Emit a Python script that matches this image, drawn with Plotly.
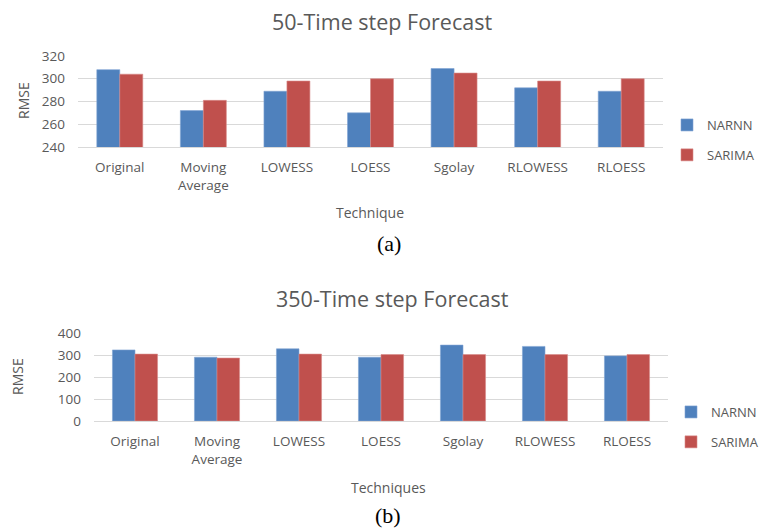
import plotly.graph_objects as go

categories = ["Original", "Moving<br>Average", "LOWESS", "LOESS", "Sgolay", "RLOWESS", "RLOESS"]
narnn_50 = [308, 272, 289, 270, 309, 292, 289]
sarima_50 = [304, 281, 298, 300, 305, 298, 300]
narnn_350 = [323, 290, 328, 290, 345, 339, 296]
sarima_350 = [304, 286, 304, 302, 302, 302, 302]

BLUE = "#4F81BD"
RED = "#C0504D"
GRAY = "#595959"
GRID = "#D9D9D9"
W, H = 761, 529

def px(x):
    return x / W

def py(y):
    return 1 - y / H

fig = go.Figure()
fig.add_trace(go.Bar(x=categories, y=narnn_50, name="NARNN", legendgroup="a1",
                     marker=dict(color=BLUE, line=dict(color="#7FA3D3", width=0.6)),
                     xaxis="x", yaxis="y", legend="legend"))
fig.add_trace(go.Bar(x=categories, y=sarima_50, name="SARIMA", legendgroup="a2",
                     marker=dict(color=RED, line=dict(color="#D98A88", width=0.6)),
                     xaxis="x", yaxis="y", legend="legend"))
fig.add_trace(go.Bar(x=categories, y=narnn_350, name="NARNN", legendgroup="b1",
                     marker=dict(color=BLUE, line=dict(color="#7FA3D3", width=0.6)),
                     xaxis="x2", yaxis="y2", legend="legend2"))
fig.add_trace(go.Bar(x=categories, y=sarima_350, name="SARIMA", legendgroup="b2",
                     marker=dict(color=RED, line=dict(color="#D98A88", width=0.6)),
                     xaxis="x2", yaxis="y2", legend="legend2"))

font_main = "Open Sans, DejaVu Sans, sans-serif"
tickfont = dict(family=font_main, size=13.5, color=GRAY)

xcommon = dict(showgrid=False, showline=True, linecolor=GRID, linewidth=1, ticks="",
               tickfont=tickfont, ticklabelstandoff=8, fixedrange=True)
ycommon = dict(showgrid=True, gridcolor=GRID, gridwidth=1, zeroline=False, showline=False, ticks="",
               tickfont=tickfont, ticklabelstandoff=12, fixedrange=True)

def ann(text, x, y, size, family=font_main, color=GRAY, angle=0):
    return dict(text=text, x=px(x), y=py(y), xref="paper", yref="paper", showarrow=False,
                xanchor="center", yanchor="middle", textangle=angle,
                font=dict(family=family, size=size, color=color))

SERIF = "Liberation Serif, Times New Roman, serif"
annotations = [
    ann("50-Time step Forecast", 382, 22, 21.5),
    ann("RMSE", 23, 101, 14, angle=-90),
    ann("Technique", 370, 212, 14),
    ann("(a)", 389, 244, 22, family=SERIF, color="black"),
    ann("350-Time step Forecast", 392, 298, 21.5),
    ann("RMSE", 17, 377, 14, angle=-90),
    ann("Techniques", 388, 487, 14),
    ann("(b)", 388, 515, 22, family=SERIF, color="black"),
]

legend_font = dict(family=font_main, size=13, color=GRAY)

fig.update_layout(
    width=W, height=H,
    margin=dict(l=0, r=0, t=0, b=0, autoexpand=False),
    paper_bgcolor="white", plot_bgcolor="white",
    barmode="group", bargap=0.45, bargroupgap=0,
    xaxis=dict(domain=[px(78), px(663)], anchor="y", **xcommon),
    yaxis=dict(domain=[py(147), py(56)], anchor="x", range=[240, 320], dtick=20, **ycommon),
    xaxis2=dict(domain=[px(94), px(668)], anchor="y2", **xcommon),
    yaxis2=dict(domain=[py(421), py(333)], anchor="x2", range=[0, 400], dtick=100, **ycommon),
    legend=dict(x=px(667), y=py(140), xanchor="left", yanchor="middle", font=legend_font,
                itemwidth=30, tracegroupgap=10, bgcolor="rgba(0,0,0,0)"),
    legend2=dict(x=px(671), y=py(427), xanchor="left", yanchor="middle", font=legend_font,
                 itemwidth=30, tracegroupgap=10, bgcolor="rgba(0,0,0,0)"),
    annotations=annotations,
    showlegend=True,
)

fig.write_html("out.html", config={"displayModeBar": False},
               post_script="document.body.style.margin='0';")
